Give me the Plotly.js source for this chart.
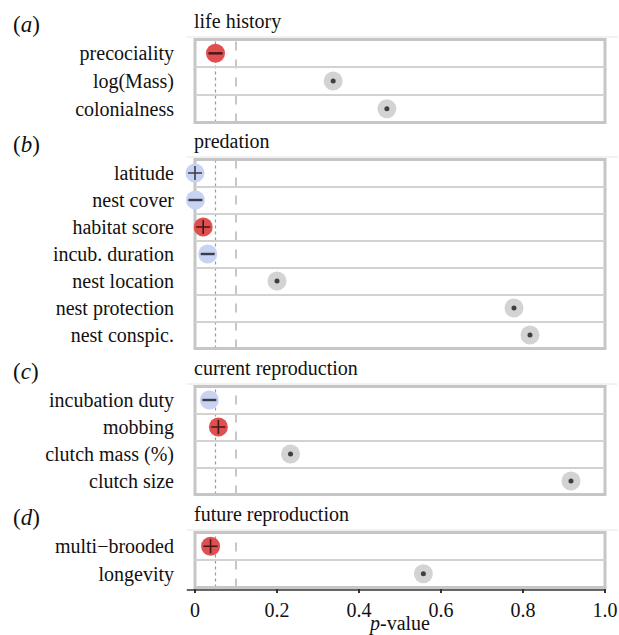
<!DOCTYPE html>
<html>
<head>
<meta charset="utf-8">
<script src="https://cdn.plot.ly/plotly-3.0.1.min.js"></script>
<style>html,body{margin:0;padding:0;background:#fff;}#chart{width:619px;height:635px;}</style>
</head>
<body>
<div id="chart"></div>
<script>
// ---- data ----
const panelLetters = ['a', 'b', 'c', 'd'];
const panelTitles = ['life history', 'predation', 'current reproduction', 'future reproduction'];

const lifeLabels = ['precociality', 'log(Mass)', 'colonialness'];
const lifeP = [0.05, 0.337, 0.468];
const lifeSign = ['-', '', ''];
const lifeGroup = ['red', 'grey', 'grey'];

const predLabels = ['latitude', 'nest cover', 'habitat score', 'incub. duration', 'nest location', 'nest protection', 'nest conspic.'];
const predP = [0.0, 0.001, 0.02, 0.031, 0.2, 0.778, 0.817];
const predSign = ['+', '-', '+', '-', '', '', ''];
const predGroup = ['blue', 'blue', 'red', 'blue', 'grey', 'grey', 'grey'];

const curLabels = ['incubation duty', 'mobbing', 'clutch mass (%)', 'clutch size'];
const curP = [0.035, 0.057, 0.233, 0.917];
const curSign = ['-', '+', '', ''];
const curGroup = ['blue', 'red', 'grey', 'grey'];

const futLabels = ['multi\u2212brooded', 'longevity'];
const futP = [0.038, 0.557];
const futSign = ['+', ''];
const futGroup = ['red', 'grey'];

const xTickVals = [0, 0.2, 0.4, 0.6, 0.8, 1.0];
const xTickText = ['0', '0.2', '0.4', '0.6', '0.8', '1.0'];
const thresholds = [0.05, 0.1];

// ---- styling ----
const FONT = '"Liberation Serif", "Times New Roman", serif';
const FS = 20;
const groupColor = {red: '#e04f4f', blue: '#c8d2f2', grey: '#d3d3d3'};
const symMap = {'+': 'cross-thin', '-': 'line-ew', '': 'circle'};
const symSize = {'+': 10, '-': 10, '': 5};
const symLine = {'+': 1.6, '-': 2.4, '': 0};

const panels = [
  {labels: lifeLabels, p: lifeP, sign: lifeSign, group: lifeGroup, top: 39.5, bottom: 122.5},
  {labels: predLabels, p: predP, sign: predSign, group: predGroup, top: 159.5, bottom: 348.5},
  {labels: curLabels, p: curP, sign: curSign, group: curGroup, top: 386.5, bottom: 494.5},
  {labels: futLabels, p: futP, sign: futSign, group: futGroup, top: 532.5, bottom: 587.5}
];

const H = 588; // plot area height in px (margin top 0)
const py = v => (H - v) / H;

const traces = [];
const layout = {
  width: 619, height: 635,
  margin: {l: 195, r: 14, t: 0, b: 47},
  paper_bgcolor: '#fff', plot_bgcolor: 'rgba(0,0,0,0)',
  showlegend: false,
  font: {family: FONT, size: FS, color: '#111'},
  xaxis: {
    range: [0, 1], anchor: 'y4', showgrid: false, zeroline: false, showline: false,
    tickvals: xTickVals, ticktext: xTickText, ticks: 'outside', ticklen: 4, tickwidth: 1.2,
    tickcolor: '#333', tickfont: {family: FONT, size: FS, color: '#111'},
    title: {text: '<i>p</i>-value', font: {family: FONT, size: FS, color: '#111'}, standoff: 2}
  },
  shapes: [],
  annotations: []
};

panels.forEach((pn, i) => {
  const ya = i === 0 ? 'y' : 'y' + (i + 1);
  const yk = i === 0 ? 'yaxis' : 'yaxis' + (i + 1);
  const n = pn.labels.length;
  layout[yk] = {
    type: 'category', categoryorder: 'array', categoryarray: pn.labels,
    range: [n - 0.5, -0.5], domain: [py(pn.bottom), py(pn.top)], anchor: 'x',
    tickson: 'boundaries', showgrid: true, gridcolor: '#d2d2d2', gridwidth: 2,
    ticks: '', zeroline: false, showline: false, ticklabelstandoff: 20,
    tickfont: {family: FONT, size: FS, color: '#111'}, fixedrange: true
  };
  // circles
  traces.push({
    type: 'scatter', mode: 'markers', xaxis: 'x', yaxis: ya,
    x: pn.p, y: pn.labels, cliponaxis: false, hoverinfo: 'skip',
    marker: {size: 19, color: pn.group.map(g => groupColor[g]), line: {width: 0}}
  });
  // inner signs
  traces.push({
    type: 'scatter', mode: 'markers', xaxis: 'x', yaxis: ya,
    x: pn.p, y: pn.labels, cliponaxis: false, hoverinfo: 'skip',
    marker: {
      symbol: pn.sign.map(s => symMap[s]), size: pn.sign.map(s => symSize[s]),
      color: '#000', line: {color: '#000', width: pn.sign.map(s => symLine[s])}
    }
  });
  const ydom = ya + ' domain';
  // threshold lines
  layout.shapes.push({type: 'line', xref: 'x', yref: ydom, x0: thresholds[0], x1: thresholds[0], y0: 0, y1: 1,
    line: {color: '#999', width: 1.2, dash: 'dot'}, layer: 'below'});
  layout.shapes.push({type: 'line', xref: 'x', yref: ydom, x0: thresholds[1], x1: thresholds[1], y0: 0, y1: 1,
    line: {color: '#aaa', width: 1.3, dash: 'dash'}, layer: 'below'});
  // panel box
  layout.shapes.push({type: 'rect', xref: 'x domain', yref: ydom, x0: 0, x1: 1, y0: 0, y1: 1,
    line: {color: '#c6c6c6', width: 3}, fillcolor: 'rgba(0,0,0,0)', layer: 'below'});
  // thin strip line above box
  layout.shapes.push({type: 'line', xref: 'paper', yref: 'paper', x0: -0.02, x1: 1.03,
    y0: py(pn.top - 2.5), y1: py(pn.top - 2.5), line: {color: '#e4e4e4', width: 1}, layer: 'below'});
  // panel title
  layout.annotations.push({xref: 'paper', yref: 'paper', x: -0.008, y: py(pn.top - 18), xanchor: 'left', yanchor: 'middle',
    text: panelTitles[i], showarrow: false, font: {family: FONT, size: FS, color: '#111'}});
  // panel letter
  layout.annotations.push({xref: 'paper', yref: 'paper', x: -0.45, y: py(pn.top - 15), xanchor: 'left', yanchor: 'middle',
    text: '(<i>' + panelLetters[i] + '</i>)', showarrow: false, font: {family: FONT, size: 23, color: '#111'}});
});

// bottom axis line
layout.shapes.push({type: 'line', xref: 'paper', yref: 'paper', x0: -0.02, x1: 1.0, y0: py(590), y1: py(590),
  line: {color: '#333', width: 1.3}, layer: 'above'});

Plotly.newPlot('chart', traces, layout, {displayModeBar: false, staticPlot: true});
</script>
</body>
</html>
